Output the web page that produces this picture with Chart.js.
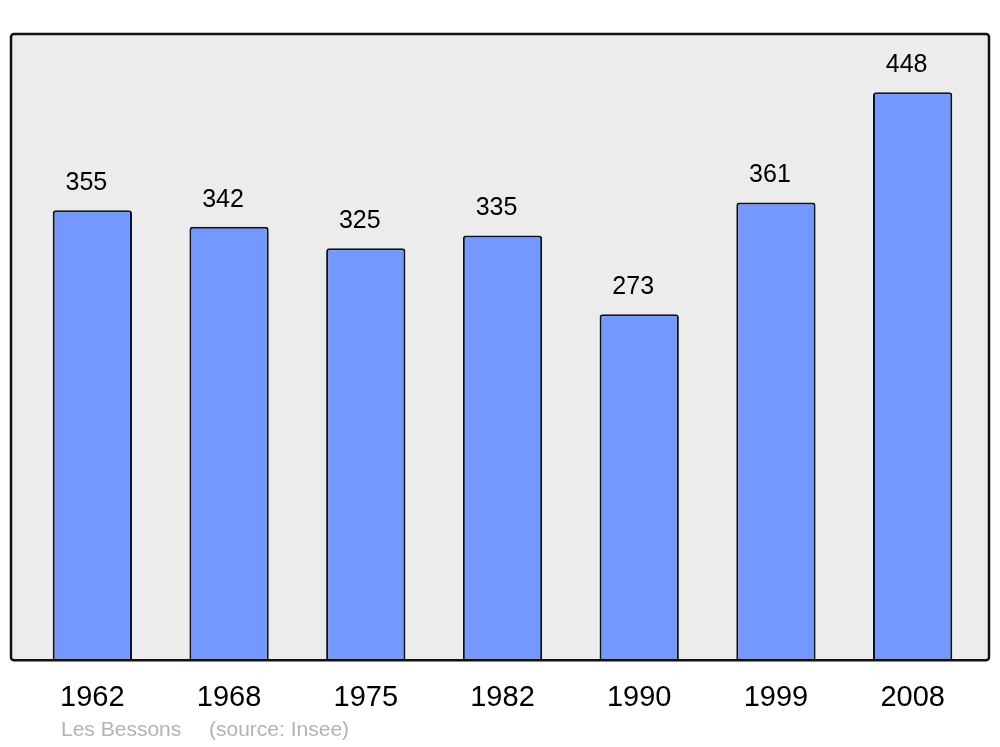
<!DOCTYPE html>
<html>
<head>
<meta charset="utf-8">
<script src="https://cdn.jsdelivr.net/npm/chart.js@4/dist/chart.umd.min.js"></script>
<style>
  html, body { margin: 0; padding: 0; background: #fff; }
  #wrap { width: 1000px; height: 747px; }
</style>
</head>
<body>
<div id="wrap"><canvas id="pop"></canvas></div>
<script>
// data
const years = ['1962', '1968', '1975', '1982', '1990', '1999', '2008'];
const population = [355, 342, 325, 335, 273, 361, 448];
const commune = 'Les Bessons';
const source = '(source: Insee)';

const FONT = '"Liberation Sans", Arial, sans-serif';

// frame + background + value labels + footer
const framePlugin = {
    id: 'frame',
    beforeDatasetsDraw(chart) {
        const { ctx, chartArea: a } = chart;
        const x0 = a.left - 13, x1 = a.right + 8;
        ctx.save();
        ctx.beginPath();
        ctx.roundRect(x0, a.top, x1 - x0, a.bottom - a.top, 3);
        ctx.fillStyle = '#ececec';
        ctx.fill();
        ctx.restore();
    },
    afterDatasetsDraw(chart) {
        const { ctx, chartArea: a } = chart;
        const x0 = a.left - 13, x1 = a.right + 8;
        ctx.save();
        ctx.beginPath();
        ctx.roundRect(x0, a.top, x1 - x0, a.bottom - a.top, 3);
        ctx.lineWidth = 2.5;
        ctx.strokeStyle = '#111';
        ctx.stroke();

        // values over bars
        ctx.font = '25px ' + FONT;
        ctx.fillStyle = '#000';
        ctx.textAlign = 'center';
        ctx.textBaseline = 'middle';
        chart.getDatasetMeta(0).data.forEach((bar, i) => {
            ctx.fillText(String(population[i]), bar.x - 6, bar.y - 27);
        });

        // footer
        ctx.font = '21px ' + FONT;
        ctx.fillStyle = '#b3b3b3';
        ctx.textAlign = 'left';
        ctx.fillText(commune, x0 + 50, 730);
        ctx.fillText(source, x0 + 198, 730);
        ctx.restore();
    }
};

new Chart(document.getElementById('pop'), {
    type: 'bar',
    data: {
        labels: years,
        datasets: [{
            data: population,
            backgroundColor: '#7399ff',
            borderColor: '#111',
            borderWidth: 2,
            borderRadius: 3,
            barPercentage: 0.58,
            categoryPercentage: 1
        }]
    },
    options: {
        responsive: true,
        maintainAspectRatio: false,
        animation: false,
        layout: { padding: { left: 24, right: 19, top: 34, bottom: 20 } },
        plugins: {
            legend: { display: false },
            tooltip: { enabled: false },
            title: { display: false }
        },
        scales: {
            x: {
                grid: { display: false },
                border: { display: false },
                ticks: {
                    color: '#000',
                    font: { family: FONT, size: 29 },
                    padding: 12,
                    maxRotation: 0
                }
            },
            y: {
                display: false,
                min: 0,
                max: 494
            }
        }
    },
    plugins: [framePlugin]
});
</script>
</body>
</html>
